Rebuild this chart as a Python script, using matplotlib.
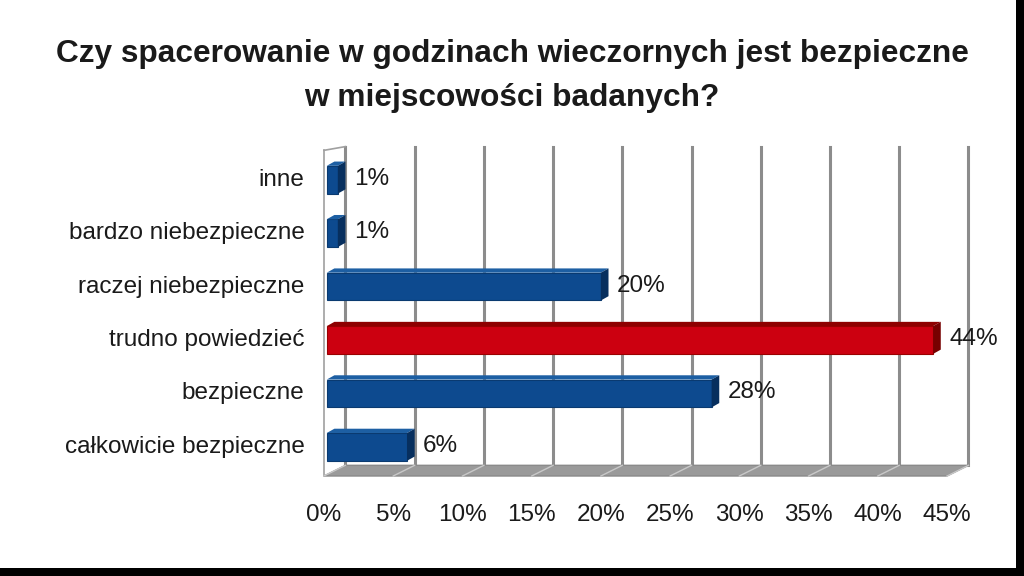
import matplotlib.pyplot as plt
from matplotlib.patches import Polygon, Rectangle

# ---- data ----
categories = ["całkowicie bezpieczne", "bezpieczne", "trudno powiedzieć",
              "raczej niebezpieczne", "bardzo niebezpieczne", "inne"]
values = [6, 28, 44, 20, 1, 1]
highlight = "trudno powiedzieć"
x_ticks = [0, 5, 10, 15, 20, 25, 30, 35, 40, 45]
title_lines = ["Czy spacerowanie w godzinach wieczornych jest bezpieczne",
               "w miejscowości badanych?"]

plt.rcParams['font.family'] = ['Liberation Sans', 'DejaVu Sans']

fig = plt.figure(figsize=(10.24, 5.76), dpi=100)
W, H = 1024, 576

# axes placed so that front 0% sits at x=324px, 45% at x=947px
x0_px, x1_px = 324, 947
y_top_px, y_bot_px = 153, 476
ax = fig.add_axes([x0_px / W, 1 - y_bot_px / H, (x1_px - x0_px) / W, (y_bot_px - y_top_px) / H])
ax.set_xlim(0, 45)
ymin, ymax = -0.545, 5.5
ax.set_ylim(ymin, ymax)
ax.axis("off")

# 3D offsets (data units)
dx_wall = 1.55
dy_wall = 0.2
grid_col = "#8c8c8c"
txt_col = "#1a1a1a"
fs = 17.5

# back wall gridlines
for t in x_ticks:
    ax.plot([t + dx_wall, t + dx_wall], [ymin + dy_wall, ymax + dy_wall * 0.6],
            color=grid_col, lw=2.2, clip_on=False, zorder=1)

# left side wall edges
ax.plot([0, 0], [ymin, ymax + 0.05], color="#a0a0a0", lw=1.2, clip_on=False, zorder=1)
ax.plot([0, dx_wall], [ymax + 0.05, ymax + dy_wall * 0.6], color="#a0a0a0", lw=1.2,
        clip_on=False, zorder=1)

# floor
floor = Polygon([(0, ymin), (45, ymin), (45 + dx_wall, ymin + dy_wall), (dx_wall, ymin + dy_wall)],
                closed=True, facecolor="#9a9a9a", edgecolor="#8a8a8a", lw=1,
                clip_on=False, zorder=2)
ax.add_patch(floor)
for t in x_ticks:
    ax.plot([t, t + dx_wall], [ymin, ymin + dy_wall], color="#c8c8c8", lw=1,
            clip_on=False, zorder=2)

# bars with a bit of depth
bh = 0.52
bdx, bdy = 0.55, 0.08
for i, (cat, v) in enumerate(zip(categories, values)):
    if cat == highlight:
        front, top, side, edge = "#cc0010", "#8e0000", "#760000", "#9a0000"
    else:
        front, top, side, edge = "#0d4a8f", "#1d5fa3", "#072f5e", "#0a3a70"
    yb = i - bh / 2
    ax.add_patch(Rectangle((0.2, yb), v - 0.2, bh, facecolor=front, edgecolor=edge, lw=0.8,
                           zorder=4, clip_on=False))
    ax.add_patch(Polygon([(0.2, yb + bh), (v, yb + bh), (v + bdx, yb + bh + bdy),
                          (0.2 + bdx, yb + bh + bdy)], closed=True, facecolor=top,
                         edgecolor="none", zorder=4, clip_on=False))
    ax.add_patch(Polygon([(v, yb), (v + bdx, yb + bdy), (v + bdx, yb + bh + bdy), (v, yb + bh)],
                         closed=True, facecolor=side, edgecolor="none", zorder=4, clip_on=False))
    ax.text(v + bdx + 0.6, i + 0.02, f"{v}%", fontsize=fs, va="center", ha="left",
            color=txt_col, zorder=5)
    ax.text(-1.4, i, cat, fontsize=fs, va="center", ha="right", color=txt_col)

# x tick labels
for t in x_ticks:
    ax.text(t, ymin - 0.73, f"{t}%", fontsize=fs, va="center", ha="center", color=txt_col)

fig.text(512 / W, 1 - 54 / H, title_lines[0], fontsize=22.8, fontweight="bold",
         ha="center", va="center", color=txt_col)
fig.text(512 / W, 1 - 98 / H, title_lines[1], fontsize=22.8, fontweight="bold",
         ha="center", va="center", color=txt_col)

# black frame on right and bottom edges
fig.patches.append(Rectangle((0, 0), 1, 8 / H, transform=fig.transFigure, facecolor="black",
                             edgecolor="none"))
fig.patches.append(Rectangle((1 - 8 / W, 0), 8 / W, 1, transform=fig.transFigure,
                             facecolor="black", edgecolor="none"))

fig.savefig("out.png", dpi=100)
